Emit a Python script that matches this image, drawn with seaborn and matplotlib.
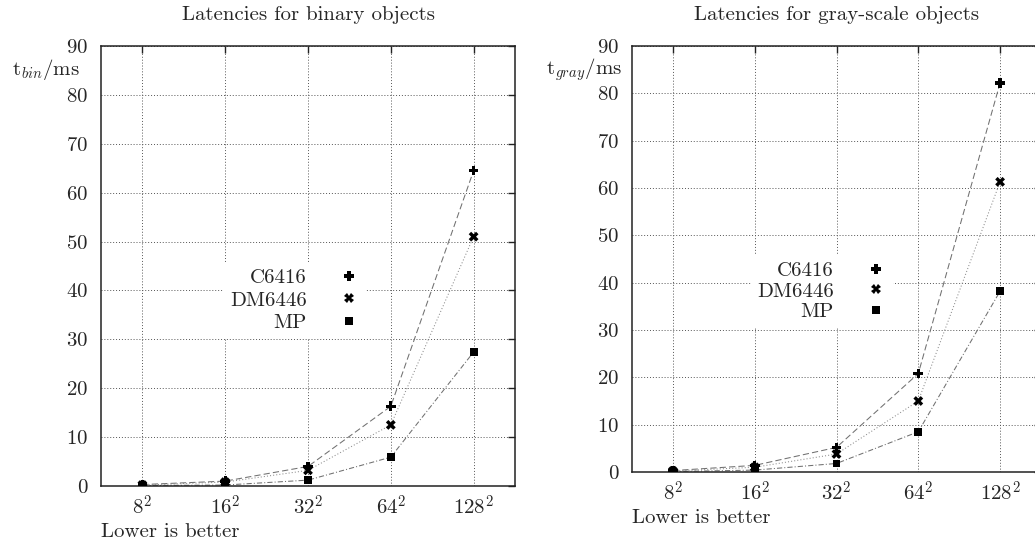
import numpy as np
import pandas as pd
import matplotlib
matplotlib.use('Agg')
import matplotlib.pyplot as plt
import seaborn as sns

# object sizes (side length in pixels) and tick labels
sizes = [8, 16, 32, 64, 128]
size_labels = [r'$8^2$', r'$16^2$', r'$32^2$', r'$64^2$', r'$128^2$']
boards = ['C6416', 'DM6446', 'MP']

# latencies in ms
bin_c6416 = [0.3, 1.0, 4.0, 16.3, 64.5]
bin_dm6446 = [0.2, 0.8, 3.2, 12.5, 51.0]
bin_mp = [0.1, 0.2, 1.2, 5.9, 27.4]

gray_c6416 = [0.3, 1.4, 5.2, 20.8, 82.2]
gray_dm6446 = [0.2, 1.0, 3.8, 15.0, 61.3]
gray_mp = [0.1, 0.4, 1.8, 8.5, 38.2]


def to_frame(c6416, dm6446, mp):
    rows = []
    for name, vals in zip(boards, [c6416, dm6446, mp]):
        for s, v in zip(sizes, vals):
            rows.append({'size': s, 'ms': v, 'board': name})
    return pd.DataFrame(rows)


df_bin = to_frame(bin_c6416, bin_dm6446, bin_mp)
df_gray = to_frame(gray_c6416, gray_dm6446, gray_mp)

sns.set_style('white')
plt.rcParams['font.family'] = ['cmr10', 'DejaVu Serif']
plt.rcParams['mathtext.fontset'] = 'cm'
plt.rcParams['axes.formatter.use_mathtext'] = True
fs = 15

line_colors = {'C6416': '#707070', 'DM6446': '#8c8c8c', 'MP': '#707070'}
dash_styles = {'C6416': (6, 3), 'DM6446': (1, 2), 'MP': (5, 2, 1, 2)}
marker_styles = {'C6416': 'P', 'DM6446': 'X', 'MP': 's'}
marker_sizes = {'C6416': 48, 'DM6446': 50, 'MP': 32}

fig = plt.figure(figsize=(10.35, 5.45), dpi=100)
ax1 = fig.add_axes([101 / 1035, 1 - 486 / 545, 414 / 1035, 440 / 545])
ax2 = fig.add_axes([632 / 1035, 1 - 472 / 545, 409 / 1035, 426 / 545])


def draw(ax, df, title, ylab, ylab_xy, lower_y, legend_anchor, spacing):
    sns.lineplot(data=df, x='size', y='ms', hue='board', style='board',
                 palette=line_colors, dashes=dash_styles, linewidth=0.75,
                 legend=False, ax=ax, zorder=2)
    sns.scatterplot(data=df, x='size', y='ms', style='board', markers=marker_styles,
                    size='board', sizes=marker_sizes,
                    color='black', linewidth=0, ax=ax, zorder=3)
    ax.set_xscale('log', base=2)
    ax.set_xlim(8 / np.sqrt(2), 128 * np.sqrt(2))
    ax.set_ylim(0, 90)
    ax.set_xticks(sizes)
    ax.set_xticklabels(size_labels)
    ax.minorticks_off()
    ax.set_yticks(range(0, 91, 10))
    ax.grid(True, color='#555555', linestyle=(0, (1, 2)), linewidth=0.7)
    ax.set_axisbelow(True)
    ax.tick_params(direction='in', length=5, width=1, top=True, right=True,
                   labelsize=fs, color='#222222')
    ax.tick_params(axis='y', pad=9)
    ax.tick_params(axis='x', pad=6)
    for sp in ax.spines.values():
        sp.set_linewidth(1.1)
        sp.set_color('#222222')
    ax.set_xlabel('')
    ax.set_ylabel('')
    ax.set_title(title, fontsize=fs, pad=19)
    fig.text(ylab_xy[0] / 1035, 1 - ylab_xy[1] / 545, ylab, ha='right', va='center', fontsize=fs)
    ax.text(0, lower_y, 'Lower is better', transform=ax.transAxes, ha='left', va='center', fontsize=fs)
    leg = ax.legend(loc='upper right', bbox_to_anchor=legend_anchor, markerfirst=False,
                    frameon=True, facecolor='white', edgecolor='none', framealpha=1,
                    fontsize=fs, handlelength=1.0, handletextpad=1.55, labelspacing=spacing,
                    borderpad=0.3, borderaxespad=0, fancybox=False)
    leg.set_zorder(5)


draw(ax1, df_bin, 'Latencies for binary objects', r'$\mathrm{t}_{bin}/\mathrm{ms}$',
     (80, 70), -0.105, (0.64, 0.509), 0.2)
draw(ax2, df_gray, 'Latencies for gray-scale objects', r'$\mathrm{t}_{gray}/\mathrm{ms}$',
     (622, 70), -0.107, (0.638, 0.509), 0.1)

fig.savefig('out.png', dpi=100)
